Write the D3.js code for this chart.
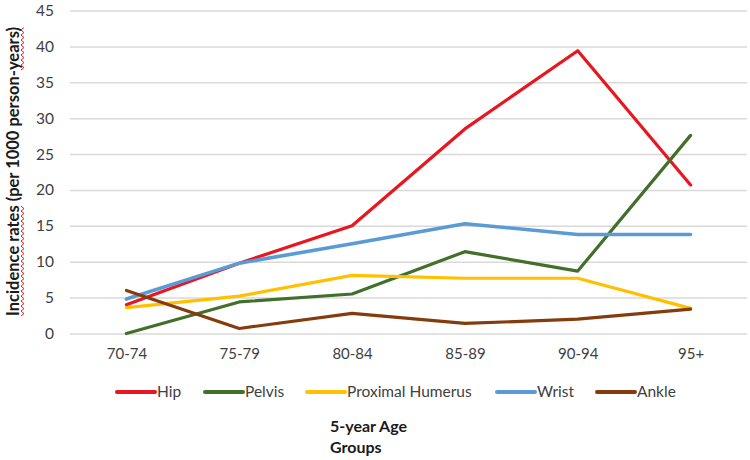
<!DOCTYPE html>
<html>
<head>
<meta charset="utf-8">
<script src="https://cdn.jsdelivr.net/npm/d3@7"></script>
<style>
  html, body { margin: 0; padding: 0; background: #fff; }
  svg { display: block; font-family: Lato, "Open Sans", sans-serif; }
</style>
</head>
<body>
<svg id="chart" width="750" height="460"></svg>
<script>
const categories = ["70-74", "75-79", "80-84", "85-89", "90-94", "95+"];
const seriesNames = ["Hip", "Pelvis", "Proximal Humerus", "Wrist", "Ankle"];
const hip = [4.0, 9.8, 15.0, 28.5, 39.4, 20.7];
const pelvis = [0.0, 4.4, 5.5, 11.4, 8.7, 27.6];
const proximalHumerus = [3.6, 5.2, 8.1, 7.7, 7.7, 3.5];
const wrist = [4.8, 9.8, 12.5, 15.3, 13.8, 13.8];
const ankle = [6.0, 0.7, 2.8, 1.4, 2.0, 3.4];
const yTicks = [0, 5, 10, 15, 20, 25, 30, 35, 40, 45];
const colors = ["#e8161f", "#426f2a", "#ffc000", "#5b9bd5", "#843c0c"];
const seriesValues = [hip, pelvis, proximalHumerus, wrist, ankle];

const svg = d3.select("#chart");
const x = d3.scalePoint().domain(categories).range([70, 747]).padding(0.5);
const y = d3.scaleLinear().domain([0, 45]).range([333.5, 10.5]);

// gridlines
const yAxis = d3.axisLeft(y).tickValues(yTicks).tickSize(-(747 - 70)).tickPadding(16);
const gy = svg.append("g").attr("transform", "translate(70,0)").call(yAxis);
gy.select(".domain").remove();
gy.selectAll(".tick line").attr("stroke", "#d9d9d9").attr("stroke-width", 1.5);
gy.selectAll(".tick text").attr("fill", "#404040").style("font-size", "15.5px")
  .style("font-family", "Lato, 'Open Sans', sans-serif");

// x axis labels
const xAxis = d3.axisBottom(x).tickSize(0).tickPadding(15);
const gx = svg.append("g").attr("transform", "translate(0,333.5)").call(xAxis);
gx.select(".domain").remove();
gx.selectAll(".tick text").attr("fill", "#404040").style("font-size", "15px")
  .style("font-family", "Lato, 'Open Sans', sans-serif");

// lines
const line = d3.line().x((d, i) => x(categories[i])).y(d => y(d));
seriesValues.forEach((vals, k) => {
  svg.append("path")
    .datum(vals)
    .attr("fill", "none")
    .attr("stroke", colors[k])
    .attr("stroke-width", k === 3 ? 3.6 : 3.2)
    .attr("stroke-linejoin", "round")
    .attr("stroke-linecap", "round")
    .attr("d", line);
});

// legend
const legendX = [117, 205, 307, 497, 597];
const lg = svg.append("g");
seriesNames.forEach((name, k) => {
  const g = lg.append("g").attr("transform", `translate(${legendX[k]},392)`);
  g.append("line").attr("x1", 0).attr("x2", 38).attr("y1", 0).attr("y2", 0)
    .attr("stroke", colors[k]).attr("stroke-width", 4).attr("stroke-linecap", "round");
  g.append("text").attr("x", 40).attr("y", 0).attr("dy", "0.35em")
    .attr("fill", "#404040").style("font-size", "15.5px").text(name);
});

// x axis title
const xt = svg.append("text").attr("x", 330).attr("y", 426)
  .attr("font-weight", "bold").attr("fill", "#1a1a1a").style("font-size", "16px");
xt.append("tspan").attr("x", 330).attr("dy", "0.35em").text("5-year Age");
xt.append("tspan").attr("x", 330).attr("dy", "1.35em").text("Groups");

// y axis title
const yg = svg.append("g").attr("transform", "translate(13,171.5) rotate(-90)");
const yt = yg.append("text").attr("x", 0).attr("y", 0).attr("dy", "0.35em")
  .attr("text-anchor", "middle").attr("font-weight", "bold").attr("fill", "#1a1a1a")
  .style("font-size", "16.5px").text("Incidence rates (per 1000 person-years)");

// spell-check style wavy underlines
const node = yt.node();
const total = node.getComputedTextLength();
const start = -total / 2;
function wave(a, b) {
  const x0 = start + node.getSubStringLength(0, a);
  const x1 = start + node.getSubStringLength(0, b);
  const pts = [];
  let up = true;
  for (let xx = x0; xx <= x1; xx += 2.5) { pts.push([xx, up ? 8 : 11]); up = !up; }
  yg.append("path").attr("d", d3.line()(pts)).attr("fill", "none")
    .attr("stroke", "#e0201b").attr("stroke-width", 1);
}
wave(0, 15);
wave(33, 39);
</script>
</body>
</html>
